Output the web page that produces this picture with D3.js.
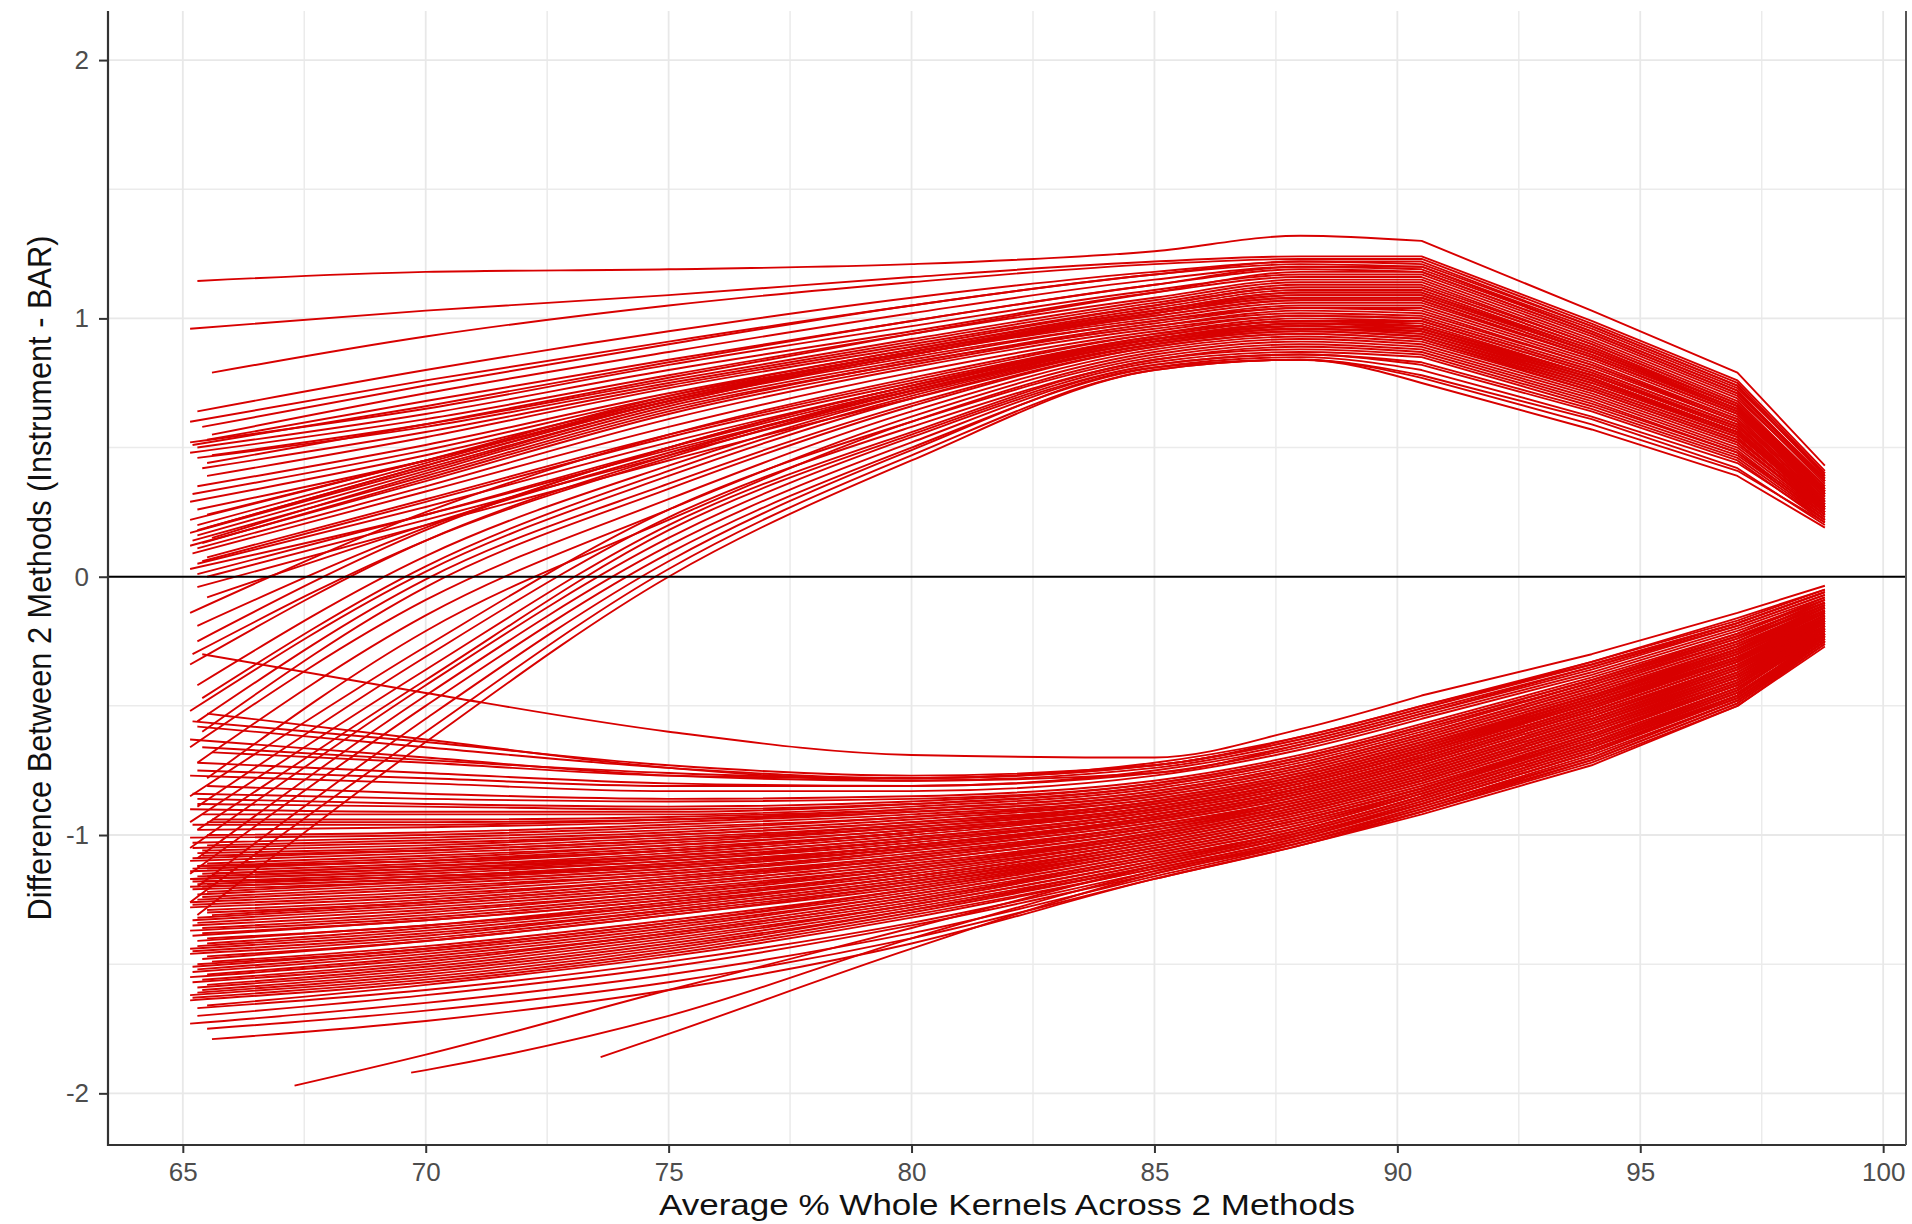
<!DOCTYPE html>
<html>
<head>
<meta charset="utf-8">
<script src="https://cdn.jsdelivr.net/npm/d3@7"></script>
<style>
  body { margin: 0; background: #fff; }
  svg { display: block; font-family: "Liberation Sans", Arial, sans-serif; }
</style>
</head>
<body>
<svg id="chart" width="1912" height="1224"></svg>
<script>
// x positions shared by every curve after its own start point
const knotX = [70, 75, 80, 85, 88, 90.5, 94, 97, 98.8];
// past this x the curves run as straight segments (sharp bends at 90.5 and 97)
const kinkX = 90.5;

// each row: start x, start y, then y at every knotX (null = before start)
const upperLines = [
  [65.3, 1.145, 1.18, 1.19, 1.21, 1.26, 1.32, 1.30, 1.03, 0.79, 0.43],
  [65.15, 0.96, 1.03, 1.09, 1.16, 1.22, 1.24, 1.24, 0.99, 0.76, 0.41],
  [65.6, 0.79, 0.93, 1.05, 1.14, 1.21, 1.23, 1.23, 0.98, 0.75, 0.40],
  [65.3, 0.64, 0.80, 0.95, 1.08, 1.18, 1.22, 1.21, 0.97, 0.74, 0.39],
  [65.15, 0.60, 0.76, 0.91, 1.05, 1.17, 1.21, 1.20, 0.96, 0.73, 0.40],
  [65.4, 0.58, 0.74, 0.90, 1.05, 1.17, 1.22, 1.22, 0.97, 0.74, 0.39],
  [65.6, 0.55, 0.71, 0.87, 1.02, 1.15, 1.20, 1.19, 0.95, 0.72, 0.37],
  [65.5, 0.53, 0.68, 0.84, 0.99, 1.13, 1.19, 1.18, 0.94, 0.71, 0.38],
  [65.15, 0.52, 0.65, 0.82, 0.97, 1.11, 1.17, 1.17, 0.93, 0.70, 0.36],
  [65.2, 0.51, 0.66, 0.83, 0.99, 1.13, 1.20, 1.20, 0.95, 0.72, 0.38],
  [65.3, 0.50, 0.63, 0.80, 0.95, 1.10, 1.16, 1.16, 0.92, 0.69, 0.37],
  [65.15, 0.48, 0.61, 0.78, 0.94, 1.08, 1.15, 1.15, 0.91, 0.68, 0.35],
  [65.6, 0.47, 0.59, 0.76, 0.92, 1.07, 1.14, 1.14, 0.90, 0.67, 0.34],
  [65.3, 0.46, 0.58, 0.75, 0.91, 1.06, 1.13, 1.13, 0.90, 0.67, 0.35],
  [65.5, 0.44, 0.59, 0.77, 0.94, 1.10, 1.18, 1.18, 0.94, 0.71, 0.37],
  [65.4, 0.42, 0.56, 0.74, 0.90, 1.05, 1.12, 1.12, 0.89, 0.66, 0.34],
  [65.5, 0.39, 0.54, 0.73, 0.89, 1.05, 1.12, 1.12, 0.89, 0.66, 0.33],
  [65.3, 0.35, 0.51, 0.71, 0.88, 1.04, 1.11, 1.11, 0.88, 0.66, 0.34],
  [65.2, 0.32, 0.49, 0.70, 0.87, 1.03, 1.10, 1.10, 0.88, 0.65, 0.33],
  [65.15, 0.29, 0.47, 0.69, 0.87, 1.03, 1.10, 1.10, 0.87, 0.65, 0.32],
  [65.3, 0.26, 0.45, 0.68, 0.86, 1.02, 1.09, 1.09, 0.87, 0.64, 0.33],
  [65.5, 0.24, 0.45, 0.68, 0.86, 1.02, 1.08, 1.08, 0.86, 0.64, 0.32],
  [65.15, 0.22, 0.45, 0.70, 0.88, 1.03, 1.09, 1.09, 0.87, 0.65, 0.33],
  [65.3, 0.20, 0.44, 0.69, 0.87, 1.02, 1.08, 1.08, 0.86, 0.64, 0.32],
  [65.5, 0.19, 0.43, 0.68, 0.86, 1.01, 1.07, 1.07, 0.85, 0.63, 0.31],
  [65.3, 0.18, 0.43, 0.68, 0.87, 1.01, 1.07, 1.07, 0.85, 0.63, 0.31],
  [65.15, 0.17, 0.42, 0.67, 0.86, 1.00, 1.06, 1.06, 0.85, 0.63, 0.32],
  [65.3, 0.16, 0.41, 0.67, 0.85, 0.99, 1.05, 1.05, 0.84, 0.62, 0.30],
  [65.6, 0.15, 0.40, 0.66, 0.84, 0.99, 1.04, 1.04, 0.83, 0.61, 0.31],
  [65.2, 0.14, 0.39, 0.65, 0.83, 0.98, 1.04, 1.03, 0.82, 0.61, 0.29],
  [65.4, 0.13, 0.38, 0.64, 0.83, 0.97, 1.03, 1.02, 0.82, 0.60, 0.30],
  [65.15, 0.12, 0.37, 0.63, 0.82, 0.97, 1.02, 1.01, 0.81, 0.60, 0.29],
  [65.3, 0.11, 0.35, 0.61, 0.81, 0.96, 1.01, 1.00, 0.80, 0.59, 0.28],
  [65.2, 0.09, 0.33, 0.58, 0.79, 0.95, 1.01, 1.00, 0.80, 0.59, 0.28],
  [65.5, 0.075, 0.30, 0.55, 0.76, 0.94, 1.00, 0.99, 0.79, 0.58, 0.29],
  [65.4, 0.06, 0.29, 0.54, 0.75, 0.93, 0.99, 0.99, 0.79, 0.58, 0.29],
  [65.3, 0.05, 0.27, 0.52, 0.74, 0.93, 0.99, 0.98, 0.78, 0.58, 0.28],
  [65.15, 0.03, 0.24, 0.49, 0.72, 0.92, 0.98, 0.97, 0.78, 0.57, 0.27],
  [65.3, 0.01, 0.24, 0.50, 0.73, 0.92, 0.98, 0.97, 0.78, 0.57, 0.28],
  [65.5, 0.0, 0.22, 0.47, 0.71, 0.91, 0.97, 0.96, 0.77, 0.56, 0.28],
  [65.3, -0.04, 0.20, 0.45, 0.69, 0.90, 0.96, 0.95, 0.76, 0.56, 0.27],
  [65.5, -0.08, 0.20, 0.48, 0.72, 0.91, 0.97, 0.96, 0.77, 0.56, 0.27],
  [65.15, -0.14, 0.25, 0.55, 0.77, 0.94, 0.99, 0.97, 0.77, 0.56, 0.27],
  [65.3, -0.19, 0.19, 0.50, 0.74, 0.92, 0.97, 0.95, 0.76, 0.55, 0.26],
  [65.3, -0.25, 0.18, 0.50, 0.74, 0.92, 0.98, 0.96, 0.76, 0.56, 0.26],
  [65.2, -0.30, 0.14, 0.46, 0.72, 0.91, 0.96, 0.94, 0.75, 0.55, 0.27],
  [65.15, -0.34, 0.14, 0.47, 0.73, 0.92, 0.97, 0.95, 0.75, 0.55, 0.27],
  [65.3, -0.42, 0.08, 0.43, 0.71, 0.91, 0.96, 0.94, 0.74, 0.54, 0.25],
  [65.4, -0.47, 0.04, 0.41, 0.70, 0.90, 0.95, 0.93, 0.74, 0.54, 0.25],
  [65.15, -0.52, 0.02, 0.39, 0.69, 0.90, 0.95, 0.93, 0.73, 0.53, 0.26],
  [65.3, -0.56, -0.01, 0.36, 0.67, 0.89, 0.94, 0.92, 0.73, 0.53, 0.26],
  [65.4, -0.60, -0.04, 0.34, 0.66, 0.89, 0.94, 0.92, 0.72, 0.52, 0.25],
  [65.15, -0.66, -0.09, 0.30, 0.64, 0.88, 0.93, 0.91, 0.72, 0.52, 0.24],
  [65.3, -0.72, -0.15, 0.26, 0.62, 0.87, 0.92, 0.90, 0.71, 0.51, 0.25],
  [65.5, -0.78, -0.21, 0.22, 0.60, 0.86, 0.91, 0.89, 0.70, 0.50, 0.24],
  [65.15, -0.85, -0.27, 0.26, 0.60, 0.85, 0.90, 0.88, 0.69, 0.49, 0.23],
  [65.3, -0.89, -0.31, 0.23, 0.58, 0.84, 0.89, 0.87, 0.68, 0.48, 0.24],
  [65.15, -0.95, -0.36, 0.20, 0.56, 0.84, 0.88, 0.86, 0.67, 0.48, 0.22],
  [65.3, -0.98, -0.40, 0.18, 0.55, 0.83, 0.87, 0.85, 0.66, 0.47, 0.23],
  [65.15, -1.05, -0.42, 0.15, 0.54, 0.82, 0.86, 0.83, 0.65, 0.46, 0.22],
  [65.3, -1.09, -0.46, 0.12, 0.52, 0.82, 0.86, 0.82, 0.64, 0.45, 0.21],
  [65.15, -1.15, -0.50, 0.09, 0.50, 0.81, 0.85, 0.80, 0.62, 0.44, 0.22],
  [65.3, -1.20, -0.55, 0.06, 0.49, 0.81, 0.84, 0.78, 0.61, 0.42, 0.20],
  [65.15, -1.26, -0.60, 0.03, 0.47, 0.80, 0.84, 0.77, 0.59, 0.41, 0.21],
  [65.3, -1.31, -0.64, 0.0, 0.45, 0.80, 0.84, 0.75, 0.57, 0.39, 0.19]
];

const lowerLines = [
  [65.4, -0.30, -0.45, -0.60, -0.69, -0.70, -0.59, -0.46, -0.30, -0.14, -0.035],
  [65.5, -0.53, -0.63, -0.74, -0.79, -0.76, -0.65, -0.53, -0.35, -0.18, -0.06],
  [65.2, -0.56, -0.64, -0.73, -0.77, -0.73, -0.62, -0.50, -0.33, -0.16, -0.05],
  [65.3, -0.58, -0.66, -0.74, -0.78, -0.73, -0.63, -0.51, -0.33, -0.17, -0.05],
  [65.15, -0.63, -0.70, -0.77, -0.79, -0.74, -0.64, -0.52, -0.35, -0.19, -0.07],
  [65.4, -0.66, -0.71, -0.76, -0.78, -0.73, -0.63, -0.51, -0.34, -0.18, -0.06],
  [65.6, -0.68, -0.72, -0.77, -0.78, -0.72, -0.62, -0.50, -0.34, -0.18, -0.06],
  [65.3, -0.72, -0.76, -0.80, -0.81, -0.76, -0.66, -0.54, -0.37, -0.20, -0.08],
  [65.3, -0.75, -0.78, -0.81, -0.81, -0.75, -0.65, -0.53, -0.36, -0.19, -0.07],
  [65.15, -0.77, -0.80, -0.83, -0.83, -0.77, -0.67, -0.55, -0.38, -0.21, -0.09],
  [65.5, -0.81, -0.84, -0.86, -0.85, -0.79, -0.69, -0.57, -0.39, -0.22, -0.08],
  [65.2, -0.84, -0.86, -0.87, -0.86, -0.80, -0.70, -0.58, -0.40, -0.22, -0.09],
  [65.3, -0.86, -0.88, -0.89, -0.87, -0.80, -0.70, -0.58, -0.40, -0.23, -0.10],
  [65.3, -0.88, -0.89, -0.90, -0.88, -0.81, -0.71, -0.59, -0.41, -0.23, -0.10],
  [65.15, -0.90, -0.91, -0.91, -0.88, -0.81, -0.71, -0.59, -0.41, -0.24, -0.09],
  [65.4, -0.92, -0.92, -0.92, -0.89, -0.82, -0.72, -0.60, -0.41, -0.23, -0.10],
  [65.6, -0.94, -0.94, -0.93, -0.90, -0.83, -0.73, -0.61, -0.42, -0.24, -0.11],
  [65.5, -0.95, -0.95, -0.94, -0.91, -0.84, -0.74, -0.62, -0.43, -0.25, -0.11],
  [65.2, -0.96, -0.96, -0.94, -0.90, -0.83, -0.73, -0.61, -0.42, -0.25, -0.11],
  [65.3, -0.98, -0.97, -0.95, -0.91, -0.84, -0.74, -0.62, -0.43, -0.25, -0.10],
  [65.5, -1.00, -0.99, -0.96, -0.92, -0.85, -0.75, -0.63, -0.44, -0.26, -0.12],
  [65.15, -1.01, -1.00, -0.97, -0.93, -0.85, -0.75, -0.63, -0.44, -0.26, -0.12],
  [65.2, -1.03, -1.01, -0.98, -0.93, -0.86, -0.76, -0.64, -0.45, -0.27, -0.12],
  [65.5, -1.04, -1.02, -0.99, -0.94, -0.86, -0.76, -0.64, -0.45, -0.27, -0.11],
  [65.2, -1.05, -1.03, -1.00, -0.95, -0.87, -0.77, -0.65, -0.46, -0.28, -0.12],
  [65.4, -1.06, -1.04, -1.00, -0.95, -0.87, -0.77, -0.65, -0.46, -0.28, -0.13],
  [65.3, -1.07, -1.05, -1.01, -0.96, -0.87, -0.77, -0.65, -0.46, -0.27, -0.13],
  [65.4, -1.08, -1.06, -1.02, -0.97, -0.88, -0.78, -0.66, -0.47, -0.28, -0.14],
  [65.2, -1.09, -1.06, -1.02, -0.96, -0.88, -0.78, -0.66, -0.46, -0.28, -0.13],
  [65.15, -1.10, -1.07, -1.03, -0.97, -0.88, -0.78, -0.66, -0.47, -0.28, -0.12],
  [65.5, -1.11, -1.08, -1.04, -0.98, -0.89, -0.79, -0.67, -0.47, -0.29, -0.13],
  [65.3, -1.12, -1.09, -1.04, -0.98, -0.89, -0.79, -0.67, -0.47, -0.29, -0.14],
  [65.3, -1.12, -1.10, -1.06, -0.99, -0.90, -0.80, -0.68, -0.48, -0.30, -0.14],
  [65.5, -1.13, -1.10, -1.05, -0.99, -0.89, -0.79, -0.67, -0.48, -0.29, -0.13],
  [65.2, -1.13, -1.10, -1.06, -0.99, -0.90, -0.80, -0.68, -0.48, -0.30, -0.14],
  [65.15, -1.14, -1.11, -1.06, -0.99, -0.90, -0.80, -0.68, -0.48, -0.30, -0.15],
  [65.6, -1.15, -1.12, -1.07, -1.00, -0.90, -0.80, -0.68, -0.49, -0.30, -0.14],
  [65.4, -1.15, -1.12, -1.08, -1.01, -0.91, -0.81, -0.69, -0.49, -0.31, -0.15],
  [65.3, -1.16, -1.13, -1.08, -1.01, -0.91, -0.81, -0.69, -0.49, -0.31, -0.15],
  [65.5, -1.16, -1.13, -1.09, -1.02, -0.92, -0.82, -0.70, -0.50, -0.31, -0.16],
  [65.15, -1.17, -1.14, -1.09, -1.02, -0.92, -0.82, -0.70, -0.50, -0.31, -0.16],
  [65.2, -1.17, -1.14, -1.10, -1.02, -0.92, -0.82, -0.70, -0.50, -0.32, -0.15],
  [65.4, -1.18, -1.15, -1.10, -1.03, -0.92, -0.82, -0.70, -0.50, -0.32, -0.15],
  [65.2, -1.18, -1.16, -1.11, -1.04, -0.93, -0.83, -0.71, -0.51, -0.32, -0.17],
  [65.3, -1.19, -1.16, -1.11, -1.04, -0.93, -0.83, -0.71, -0.51, -0.32, -0.16],
  [65.5, -1.19, -1.16, -1.12, -1.04, -0.93, -0.83, -0.71, -0.51, -0.32, -0.16],
  [65.15, -1.20, -1.17, -1.12, -1.05, -0.94, -0.84, -0.72, -0.52, -0.33, -0.17],
  [65.4, -1.20, -1.17, -1.12, -1.04, -0.94, -0.84, -0.72, -0.52, -0.33, -0.16],
  [65.2, -1.21, -1.18, -1.13, -1.05, -0.94, -0.84, -0.72, -0.52, -0.33, -0.17],
  [65.5, -1.22, -1.18, -1.13, -1.05, -0.94, -0.84, -0.72, -0.52, -0.33, -0.16],
  [65.3, -1.23, -1.19, -1.14, -1.06, -0.95, -0.85, -0.73, -0.53, -0.34, -0.18],
  [65.4, -1.24, -1.20, -1.15, -1.06, -0.95, -0.85, -0.73, -0.53, -0.34, -0.17],
  [65.3, -1.25, -1.21, -1.15, -1.07, -0.96, -0.86, -0.74, -0.54, -0.34, -0.17],
  [65.15, -1.26, -1.22, -1.16, -1.08, -0.96, -0.86, -0.74, -0.54, -0.35, -0.17],
  [65.2, -1.27, -1.23, -1.17, -1.08, -0.97, -0.86, -0.74, -0.54, -0.35, -0.18],
  [65.15, -1.28, -1.24, -1.17, -1.09, -0.97, -0.87, -0.75, -0.55, -0.35, -0.18],
  [65.5, -1.29, -1.25, -1.18, -1.09, -0.97, -0.87, -0.75, -0.55, -0.36, -0.19],
  [65.5, -1.30, -1.26, -1.19, -1.10, -0.98, -0.87, -0.75, -0.55, -0.36, -0.18],
  [65.6, -1.31, -1.26, -1.19, -1.10, -0.98, -0.88, -0.76, -0.56, -0.36, -0.17],
  [65.3, -1.32, -1.27, -1.20, -1.11, -0.99, -0.88, -0.76, -0.56, -0.37, -0.18],
  [65.2, -1.33, -1.28, -1.21, -1.12, -0.99, -0.88, -0.76, -0.56, -0.37, -0.19],
  [65.3, -1.34, -1.29, -1.22, -1.12, -1.00, -0.89, -0.77, -0.57, -0.37, -0.19],
  [65.2, -1.35, -1.30, -1.22, -1.13, -1.00, -0.89, -0.77, -0.57, -0.38, -0.20],
  [65.4, -1.36, -1.31, -1.23, -1.13, -1.00, -0.89, -0.77, -0.57, -0.38, -0.19],
  [65.15, -1.37, -1.32, -1.24, -1.14, -1.01, -0.90, -0.78, -0.58, -0.38, -0.18],
  [65.4, -1.38, -1.33, -1.25, -1.14, -1.01, -0.90, -0.78, -0.58, -0.39, -0.19],
  [65.2, -1.39, -1.33, -1.25, -1.15, -1.01, -0.90, -0.78, -0.58, -0.39, -0.20],
  [65.5, -1.40, -1.35, -1.26, -1.16, -1.02, -0.91, -0.79, -0.59, -0.39, -0.20],
  [65.3, -1.41, -1.35, -1.27, -1.16, -1.02, -0.91, -0.79, -0.59, -0.40, -0.21],
  [65.5, -1.42, -1.36, -1.27, -1.16, -1.02, -0.91, -0.79, -0.59, -0.40, -0.20],
  [65.3, -1.43, -1.37, -1.28, -1.17, -1.03, -0.92, -0.80, -0.60, -0.40, -0.19],
  [65.15, -1.44, -1.38, -1.29, -1.18, -1.03, -0.92, -0.80, -0.60, -0.41, -0.20],
  [65.2, -1.45, -1.39, -1.29, -1.18, -1.04, -0.93, -0.81, -0.61, -0.41, -0.21],
  [65.15, -1.46, -1.40, -1.30, -1.19, -1.05, -0.94, -0.82, -0.61, -0.41, -0.21],
  [65.5, -1.47, -1.41, -1.31, -1.19, -1.04, -0.93, -0.81, -0.61, -0.42, -0.22],
  [65.4, -1.48, -1.41, -1.31, -1.20, -1.05, -0.94, -0.82, -0.62, -0.42, -0.21],
  [65.6, -1.49, -1.43, -1.33, -1.21, -1.06, -0.95, -0.83, -0.62, -0.42, -0.20],
  [65.3, -1.50, -1.44, -1.34, -1.21, -1.05, -0.94, -0.82, -0.62, -0.42, -0.21],
  [65.2, -1.51, -1.44, -1.34, -1.22, -1.06, -0.95, -0.83, -0.63, -0.43, -0.22],
  [65.3, -1.52, -1.45, -1.35, -1.23, -1.07, -0.96, -0.84, -0.64, -0.43, -0.22],
  [65.2, -1.53, -1.46, -1.36, -1.23, -1.07, -0.96, -0.83, -0.63, -0.43, -0.23],
  [65.5, -1.54, -1.47, -1.37, -1.24, -1.08, -0.97, -0.84, -0.64, -0.44, -0.22],
  [65.15, -1.55, -1.48, -1.38, -1.25, -1.09, -0.98, -0.85, -0.65, -0.44, -0.21],
  [65.4, -1.56, -1.49, -1.38, -1.25, -1.08, -0.97, -0.84, -0.64, -0.44, -0.22],
  [65.2, -1.57, -1.50, -1.39, -1.26, -1.09, -0.98, -0.85, -0.65, -0.45, -0.23],
  [65.5, -1.58, -1.51, -1.40, -1.27, -1.10, -0.99, -0.86, -0.66, -0.45, -0.23],
  [65.3, -1.59, -1.52, -1.41, -1.27, -1.10, -0.98, -0.85, -0.65, -0.45, -0.24],
  [65.4, -1.60, -1.53, -1.42, -1.28, -1.11, -0.99, -0.86, -0.66, -0.46, -0.23],
  [65.3, -1.61, -1.54, -1.43, -1.29, -1.12, -1.00, -0.87, -0.67, -0.46, -0.22],
  [65.15, -1.62, -1.55, -1.44, -1.29, -1.11, -0.99, -0.86, -0.66, -0.46, -0.23],
  [65.2, -1.63, -1.56, -1.45, -1.30, -1.12, -1.00, -0.87, -0.67, -0.47, -0.24],
  [65.15, -1.64, -1.57, -1.46, -1.31, -1.13, -1.01, -0.88, -0.68, -0.47, -0.24],
  [65.5, -1.66, -1.58, -1.47, -1.32, -1.13, -1.01, -0.88, -0.68, -0.47, -0.25],
  [65.3, -1.67, -1.60, -1.49, -1.34, -1.14, -1.02, -0.89, -0.70, -0.48, -0.25],
  [65.3, -1.70, -1.62, -1.51, -1.35, -1.15, -1.02, -0.89, -0.69, -0.48, -0.25],
  [65.15, -1.73, -1.65, -1.54, -1.38, -1.16, -1.03, -0.90, -0.71, -0.49, -0.26],
  [65.5, -1.75, -1.68, -1.57, -1.40, -1.17, -1.04, -0.91, -0.72, -0.50, -0.27],
  [65.6, -1.79, -1.72, -1.60, -1.42, -1.17, -1.04, -0.92, -0.73, -0.50, -0.26],
  [67.3, -1.97, -1.85, -1.60, -1.36, -1.12, -1.00, -0.88, -0.68, -0.46, -0.24],
  [69.7, -1.92, -1.91, -1.70, -1.40, -1.14, -1.02, -0.90, -0.70, -0.48, -0.25],
  [73.6, -1.86, null, -1.77, -1.44, -1.15, -1.03, -0.91, -0.71, -0.49, -0.25]
];

const xTicks = [65, 70, 75, 80, 85, 90, 95, 100];
const xMinorTicks = [67.5, 72.5, 77.5, 82.5, 87.5, 92.5, 97.5];
const yTicks = [-2, -1, 0, 1, 2];
const yMinorTicks = [-1.5, -0.5, 0.5, 1.5];
const xTitle = "Average % Whole Kernels Across 2 Methods";
const yTitle = "Difference Between 2 Methods (Instrument - BAR)";

const panel = { left: 108, right: 1906, top: 11, bottom: 1145 };

const svg = d3.select('#chart');

const x = d3.scaleLinear()
    .domain([63.46, 100.47])
    .range([panel.left, panel.right]);

const y = d3.scaleLinear()
    .domain([-2.2, 2.19])
    .range([panel.bottom, panel.top]);

// grid
const grid = svg.append('g').attr('class', 'grid');

grid.selectAll('.vminor')
    .data(xMinorTicks)
    .enter().append('line')
    .attr('x1', d => x(d)).attr('x2', d => x(d))
    .attr('y1', panel.top).attr('y2', panel.bottom)
    .attr('stroke', '#ebebeb').attr('stroke-width', 1.5);

grid.selectAll('.hminor')
    .data(yMinorTicks)
    .enter().append('line')
    .attr('x1', panel.left).attr('x2', panel.right)
    .attr('y1', d => y(d)).attr('y2', d => y(d))
    .attr('stroke', '#ebebeb').attr('stroke-width', 1.5);

grid.selectAll('.vmajor')
    .data(xTicks)
    .enter().append('line')
    .attr('x1', d => x(d)).attr('x2', d => x(d))
    .attr('y1', panel.top).attr('y2', panel.bottom)
    .attr('stroke', '#e8e8e8').attr('stroke-width', 1.8);

grid.selectAll('.hmajor')
    .data(yTicks)
    .enter().append('line')
    .attr('x1', panel.left).attr('x2', panel.right)
    .attr('y1', d => y(d)).attr('y2', d => y(d))
    .attr('stroke', '#e8e8e8').attr('stroke-width', 1.8);

// curves
function toPoints(row) {
    let pts = [[row[0], row[1]]];
    knotX.forEach((kx, i) => {
        let v = row[i + 2];
        if (v !== null && kx > row[0]) pts.push([kx, v]);
    });
    return pts;
}

const smooth = d3.line()
    .curve(d3.curveMonotoneX)
    .x(d => x(d[0]))
    .y(d => y(d[1]));

const straight = d3.line()
    .x(d => x(d[0]))
    .y(d => y(d[1]));

// smooth rise on the left, straight pieces after the bend
function curvePath(row) {
    let pts = toPoints(row);
    let left = pts.filter(p => p[0] <= kinkX);
    let right = pts.filter(p => p[0] >= kinkX);
    return smooth(left) + straight(right).replace(/^M/, 'L');
}

const allLines = upperLines.concat(lowerLines);

svg.append('g')
    .attr('class', 'curves')
    .selectAll('path')
    .data(allLines)
    .enter().append('path')
    .attr('d', d => curvePath(d))
    .attr('fill', 'none')
    .attr('stroke', '#d80000')
    .attr('stroke-width', 1.9)
    .attr('stroke-linejoin', 'round');

// zero reference line
svg.append('line')
    .attr('x1', panel.left).attr('x2', panel.right)
    .attr('y1', y(0)).attr('y2', y(0))
    .attr('stroke', '#000').attr('stroke-width', 2);

// axes
const xAxis = svg.append('g')
    .attr('transform', `translate(0,${panel.bottom})`)
    .call(d3.axisBottom(x).tickValues(xTicks).tickSize(8).tickPadding(10).tickFormat(d => String(d)));

const yAxis = svg.append('g')
    .attr('transform', `translate(${panel.left},0)`)
    .call(d3.axisLeft(y).tickValues(yTicks).tickSize(9).tickPadding(10).tickFormat(d => String(d)));

[xAxis, yAxis].forEach(ax => {
    ax.select('.domain').remove();
    ax.selectAll('.tick line').attr('stroke', '#333').attr('stroke-width', 2);
    ax.selectAll('.tick text')
        .attr('fill', '#4d4d4d')
        .style('font-size', '26px')
        .style('font-family', '"Liberation Sans", Arial, sans-serif');
});

// axis lines (left, bottom, right)
svg.append('line')
    .attr('x1', panel.left).attr('x2', panel.left)
    .attr('y1', panel.top).attr('y2', panel.bottom + 1)
    .attr('stroke', '#333').attr('stroke-width', 2.2);
svg.append('line')
    .attr('x1', panel.left).attr('x2', panel.right)
    .attr('y1', panel.bottom).attr('y2', panel.bottom)
    .attr('stroke', '#333').attr('stroke-width', 2.2);
svg.append('line')
    .attr('x1', panel.right).attr('x2', panel.right)
    .attr('y1', panel.top).attr('y2', panel.bottom)
    .attr('stroke', '#555').attr('stroke-width', 2);

// titles
svg.append('text')
    .attr('x', (panel.left + panel.right) / 2)
    .attr('y', 1215)
    .attr('text-anchor', 'middle')
    .attr('textLength', 696)
    .attr('lengthAdjust', 'spacingAndGlyphs')
    .attr('fill', '#111')
    .style('font-size', '30px')
    .text(xTitle);

svg.append('text')
    .attr('transform', `translate(51,${(panel.top + panel.bottom) / 2}) rotate(-90)`)
    .attr('text-anchor', 'middle')
    .attr('textLength', 685)
    .attr('lengthAdjust', 'spacingAndGlyphs')
    .attr('fill', '#111')
    .style('font-size', '33px')
    .text(yTitle);
</script>
</body>
</html>
